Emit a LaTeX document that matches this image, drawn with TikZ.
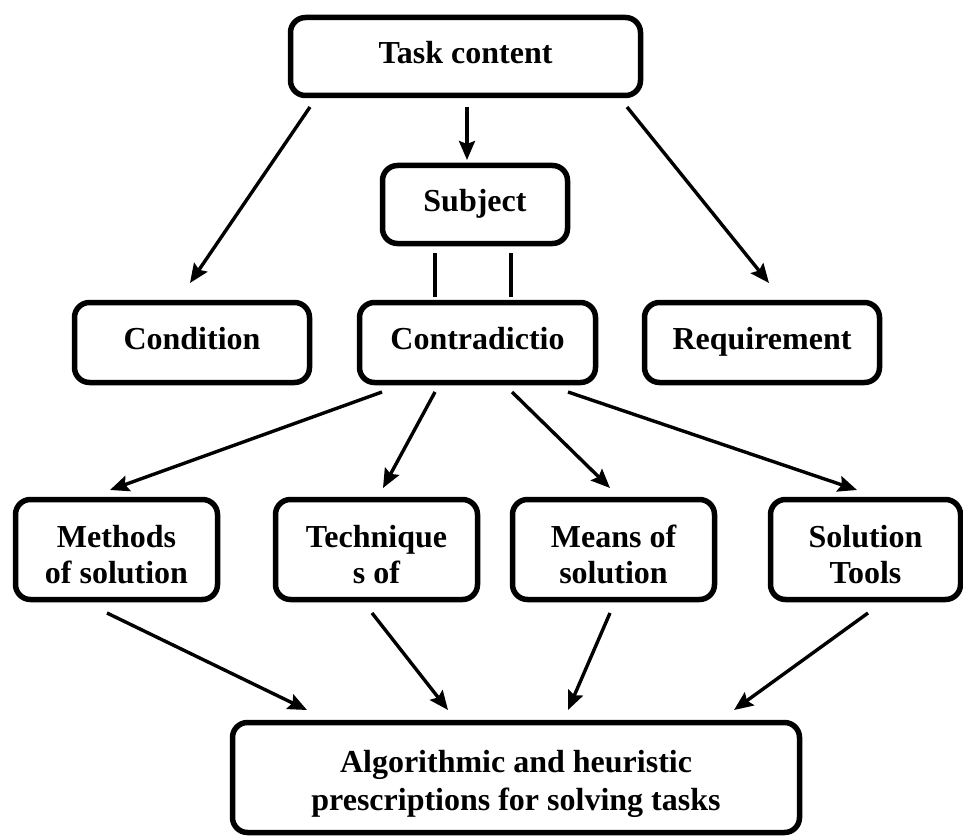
\documentclass[tikz,border=0pt]{standalone}
\usepackage{fontspec}
\setmainfont{Liberation Serif}
\usetikzlibrary{arrows.meta,calc}
\tikzset{
  box/.style={draw=black, line width=5.5pt, rounded corners=15pt, fill=white,
    align=center, inner sep=0pt, font=\fontsize{32}{36}\selectfont\bfseries},
  oneline/.style={text height=19pt, text depth=5pt},
  twoline/.style={text height=72pt, text depth=4pt},
  arr/.style={line width=3.4pt, -{Stealth[length=19pt,width=16pt,inset=3pt]}},
  plain/.style={line width=3.4pt}
}
\begin{document}
\begin{tikzpicture}[x=1pt,y=-1pt]
\useasboundingbox (0,0) rectangle (963,837);
\node[box, oneline, minimum width=350pt, minimum height=78pt] (task) at (465.5,56.5) {Task content};
\node[box, oneline, minimum width=185pt, minimum height=78pt] (subj) at (475,204.5) {Subject};
\node[box, oneline, minimum width=235pt, minimum height=80pt] (cond) at (192,342.5) {Condition};
\node[box, oneline, minimum width=236pt, minimum height=80pt] (contr) at (477.5,342.5) {Contradictio};
\node[box, oneline, minimum width=235pt, minimum height=80pt] (req) at (762,342.5) {Requirement};
\node[box, twoline, minimum width=202pt, minimum height=100pt] (meth) at (116.5,549.5) {Methods\\of solution};
\node[box, twoline, minimum width=202pt, minimum height=100pt] (tech) at (376.5,549.5) {Technique\\s of};
\node[box, twoline, minimum width=202pt, minimum height=100pt] (means) at (613.5,549.5) {Means of\\solution};
\node[box, twoline, minimum width=190pt, minimum height=100pt] (tools) at (865.5,549.5) {Solution\\Tools};
\node[box, text height=70pt, text depth=4pt, font=\fontsize{32}{38}\selectfont\bfseries,
      minimum width=567pt, minimum height=110pt] (bot) at (516,777.5) {Algorithmic and heuristic\\prescriptions for solving tasks};

% top level
\draw[arr] ($(task.center)+(-155.5,50.5)$) -- ($(cond.center)+(-2,-59.5)$);
\draw[arr] ($(task.center)+(1.5,50.5)$) -- ($(subj.center)+(-8,-44.5)$);
\draw[arr] ($(task.center)+(161.5,50.5)$) -- ($(req.center)+(7,-59.5)$);
% subject - contradiction
\draw[plain] ($(subj.center)+(-40,48.5)$) -- ($(contr.center)+(-42.5,-45.5)$);
\draw[plain] ($(subj.center)+(36,48.5)$) -- ($(contr.center)+(33.5,-45.5)$);
% contradiction to means
\draw[arr] ($(contr.center)+(-95.5,49.5)$) -- ($(meth.center)+(-6.5,-59.5)$);
\draw[arr] ($(contr.center)+(-42.5,49.5)$) -- ($(tech.center)+(6.5,-61.5)$);
\draw[arr] ($(contr.center)+(34.5,49.5)$) -- ($(means.center)+(-3.5,-61.5)$);
\draw[arr] ($(contr.center)+(90.5,49.5)$) -- ($(tools.center)+(-8.5,-59.5)$);
% to bottom
\draw[arr] ($(meth.center)+(-9.5,63.5)$) -- ($(bot.center)+(-209,-67.5)$);
\draw[arr] ($(tech.center)+(-4.5,63.5)$) -- ($(bot.center)+(-68,-67.5)$);
\draw[arr] ($(means.center)+(-3.5,63.5)$) -- ($(bot.center)+(52,-67.5)$);
\draw[arr] ($(tools.center)+(2.5,63.5)$) -- ($(bot.center)+(218,-67.5)$);
\end{tikzpicture}
\end{document}
